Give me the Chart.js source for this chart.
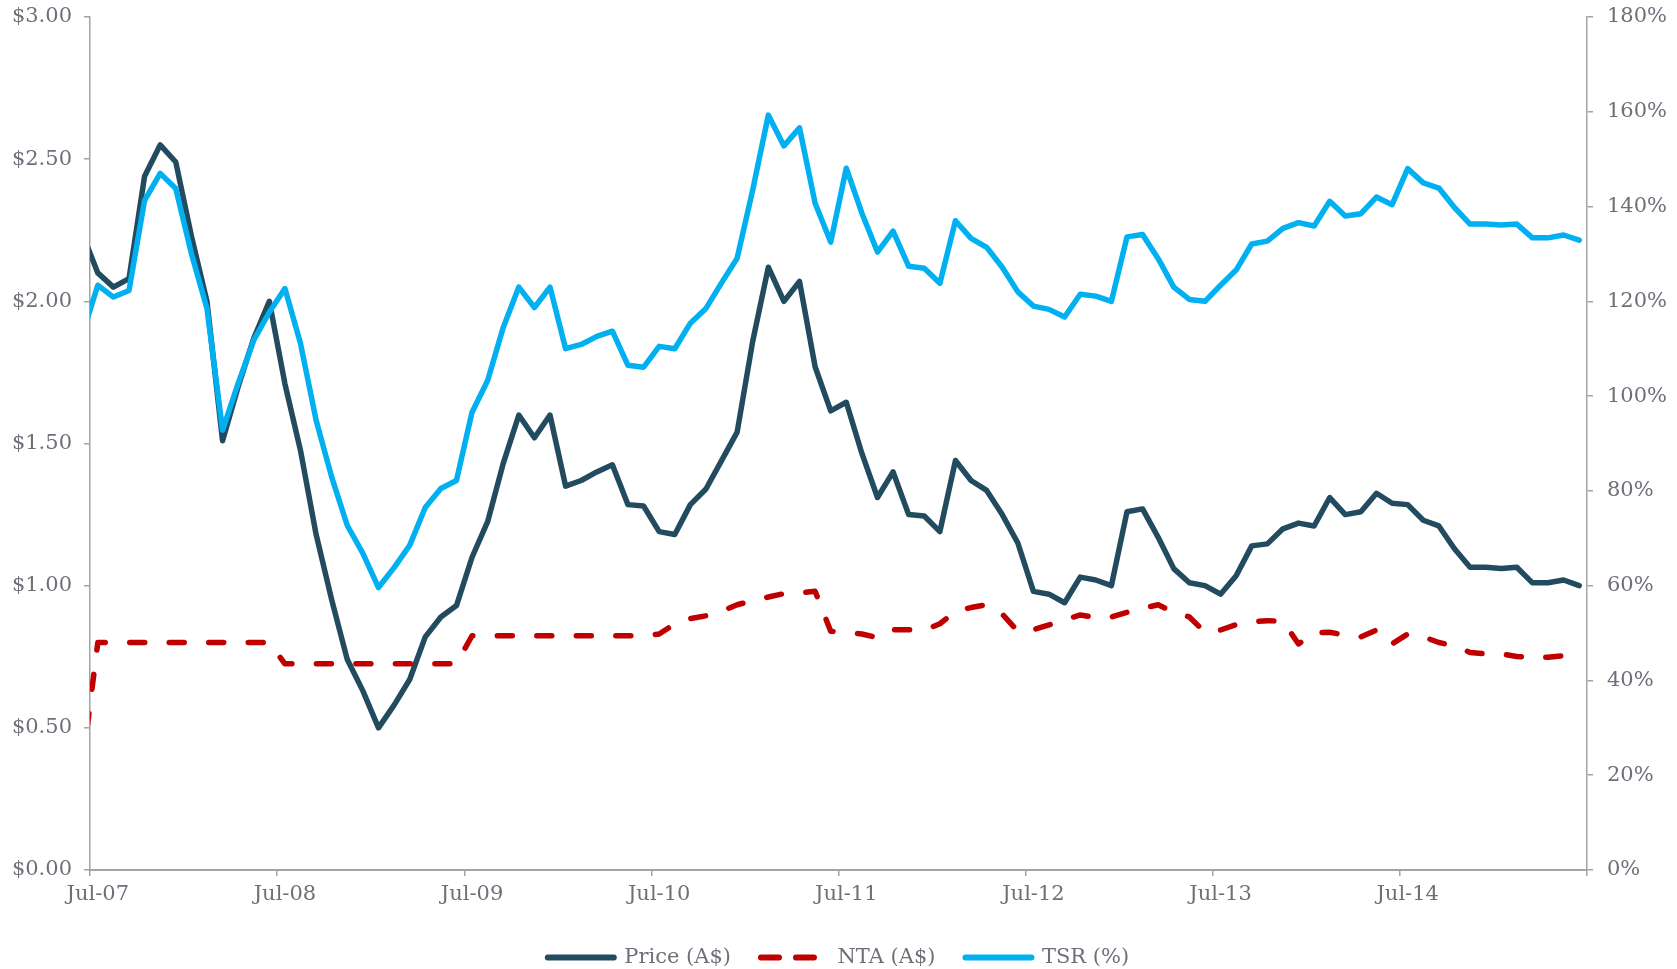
<!DOCTYPE html>
<html><head><meta charset="utf-8">
<script src="https://cdn.jsdelivr.net/npm/chart.js@4.4.1/dist/chart.umd.min.js"></script>
<style>html,body{margin:0;padding:0;background:#fff;overflow:hidden;}</style>
</head><body>
<canvas id="c" width="1677" height="969"></canvas>
<script>
const months = ['Jun-07','Jul-07','Aug-07','Sep-07','Oct-07','Nov-07','Dec-07','Jan-08','Feb-08','Mar-08','Apr-08','May-08','Jun-08',
'Jul-08','Aug-08','Sep-08','Oct-08','Nov-08','Dec-08','Jan-09','Feb-09','Mar-09','Apr-09','May-09','Jun-09',
'Jul-09','Aug-09','Sep-09','Oct-09','Nov-09','Dec-09','Jan-10','Feb-10','Mar-10','Apr-10','May-10','Jun-10',
'Jul-10','Aug-10','Sep-10','Oct-10','Nov-10','Dec-10','Jan-11','Feb-11','Mar-11','Apr-11','May-11','Jun-11',
'Jul-11','Aug-11','Sep-11','Oct-11','Nov-11','Dec-11','Jan-12','Feb-12','Mar-12','Apr-12','May-12','Jun-12',
'Jul-12','Aug-12','Sep-12','Oct-12','Nov-12','Dec-12','Jan-13','Feb-13','Mar-13','Apr-13','May-13','Jun-13',
'Jul-13','Aug-13','Sep-13','Oct-13','Nov-13','Dec-13','Jan-14','Feb-14','Mar-14','Apr-14','May-14','Jun-14',
'Jul-14','Aug-14','Sep-14','Oct-14','Nov-14','Dec-14','Jan-15','Feb-15','Mar-15','Apr-15','May-15','Jun-15'];

const tickLabels = ['Jul-07','Jul-08','Jul-09','Jul-10','Jul-11','Jul-12','Jul-13','Jul-14'];

const price = [2.24,2.10,2.05,2.08,2.44,2.55,2.49,2.23,2.00,1.51,
1.70,1.87,2.00,1.71,1.475,1.18,0.95,0.74,0.63,0.50,
0.58,0.67,0.82,0.89,0.93,1.10,1.225,1.43,1.60,1.52,
1.60,1.35,1.37,1.40,1.425,1.285,1.28,1.19,1.18,1.285,
1.34,1.44,1.54,1.86,2.12,2.00,2.07,1.77,1.615,1.645,
1.465,1.31,1.40,1.25,1.245,1.19,1.44,1.37,1.335,1.25,
1.15,0.98,0.97,0.94,1.03,1.02,1.00,1.26,1.27,1.17,
1.06,1.01,1.00,0.97,1.035,1.14,1.147,1.20,1.22,1.21,
1.31,1.25,1.26,1.325,1.29,1.285,1.23,1.21,1.13,1.065,
1.065,1.06,1.065,1.01,1.01,1.02,1.00];

const nta = [0.36,0.80,0.80,0.80,0.80,0.80,0.80,0.80,0.80,0.80,
0.80,0.80,0.80,0.725,0.725,0.725,0.725,0.725,0.725,0.725,
0.725,0.725,0.725,0.725,0.725,0.824,0.824,0.824,0.824,0.824,
0.824,0.824,0.824,0.824,0.824,0.824,0.824,0.83,0.866,0.884,
0.894,0.91,0.933,0.947,0.96,0.972,0.975,0.98,0.84,0.835,
0.83,0.817,0.845,0.845,0.843,0.866,0.91,0.923,0.933,0.90,
0.84,0.845,0.862,0.88,0.897,0.888,0.89,0.906,0.92,0.933,
0.906,0.89,0.836,0.844,0.863,0.873,0.877,0.875,0.795,0.835,
0.836,0.826,0.82,0.844,0.795,0.83,0.82,0.80,0.789,0.765,
0.76,0.76,0.751,0.748,0.748,0.754,0.75];

const tsr = [112.8,123.4,120.9,122.3,141.3,147.0,143.8,130.1,118.5,92.8,
102.7,111.8,117.7,122.7,111.1,94.9,82.9,72.7,66.8,59.6,
63.8,68.5,76.5,80.5,82.2,96.6,103.3,114.5,123.0,118.7,
123.0,110.0,110.9,112.6,113.7,106.5,106.1,110.5,110.0,115.4,
118.5,123.9,129.1,143.5,159.3,152.8,156.6,140.7,132.5,148.1,
138.6,130.4,134.8,127.4,127.0,123.8,137.0,133.3,131.4,127.2,
122.0,119.0,118.3,116.7,121.5,121.1,120.0,133.6,134.1,129.0,
123.0,120.4,120.0,123.4,126.6,132.1,132.7,135.4,136.6,135.9,
141.1,138.0,138.5,142.0,140.4,148.0,145.0,143.9,139.8,136.3,
136.3,136.1,136.3,133.4,133.4,134.0,132.9];

// each monthly value sits mid-month; Jul-07 boundary = 0
const toPts = arr => arr.map((v, i) => ({x: i - 0.5, y: v}));

const FONT = {family: '"DejaVu Serif", serif', size: 21};
const TXT = '#6f6f7a';
const AX = '#a3a3a3';
const PLOT_L = 90, PLOT_R = 1587;
const halfMonth = (PLOT_R - PLOT_L) / 96 / 2;

new Chart(document.getElementById('c'), {
  type: 'line',
  data: {
    datasets: [
      {label: 'Price (A$)', data: toPts(price), yAxisID: 'y', borderColor: '#234b5f', backgroundColor: '#234b5f',
       borderWidth: 5.5, pointRadius: 0, tension: 0, order: 2, clip: 0, borderCapStyle: 'round', borderJoinStyle: 'round'},
      {label: 'NTA (A$)', data: toPts(nta), yAxisID: 'y', borderColor: '#c00000', backgroundColor: '#c00000',
       borderWidth: 5.5, borderDash: [15, 24.5], pointRadius: 0, tension: 0, order: 1, clip: 0, borderCapStyle: 'round', borderJoinStyle: 'round'},
      {label: 'TSR (%)', data: toPts(tsr), yAxisID: 'y1', borderColor: '#00b0f0', backgroundColor: '#00b0f0',
       borderWidth: 5.5, pointRadius: 0, tension: 0, order: 0, clip: 0, borderCapStyle: 'round', borderJoinStyle: 'round'}
    ]
  },
  options: {
    responsive: false,
    animation: false,
    devicePixelRatio: 1,
    layout: {padding: {top: 17, left: 0, right: 0, bottom: -9}},
    plugins: {
      tooltip: {enabled: false},
      legend: {
        position: 'bottom',
        labels: {
          font: FONT, color: TXT, usePointStyle: true, pointStyle: 'line', pointStyleWidth: 66, padding: 30,
          sort: (a, b) => a.datasetIndex - b.datasetIndex,
          generateLabels: chart => Chart.defaults.plugins.legend.labels.generateLabels(chart).map(item => {
            const ds = chart.data.datasets[item.datasetIndex];
            item.lineDash = ds.borderDash ? [18, 17] : [];
            item.lineWidth = 6;
            item.lineCap = 'round';
            item.strokeStyle = ds.borderColor;
            item.fontColor = TXT;
            return item;
          })
        }
      }
    },
    scales: {
      x: {
        type: 'linear', min: 0, max: 96,
        afterBuildTicks: s => { s.ticks = [0,12,24,36,48,60,72,84,96].map(v => ({value: v})); },
        afterFit: s => { s.height = 47; },
        ticks: {font: FONT, color: TXT, padding: 6, labelOffset: halfMonth, maxRotation: 0, autoSkip: false,
                callback: v => tickLabels[v / 12] || ''},
        grid: {drawOnChartArea: false, tickLength: 6, color: AX, lineWidth: 1.5},
        border: {display: true, color: AX, width: 2}
      },
      y: {
        position: 'left', min: 0, max: 3,
        afterFit: s => { s.width = PLOT_L; s.paddingTop = 0; s.paddingBottom = 0; },
        ticks: {stepSize: 0.5, font: FONT, color: TXT, padding: 12, callback: v => '$' + Number(v).toFixed(2)},
        grid: {drawOnChartArea: false, tickLength: 6, color: AX, lineWidth: 1.5},
        border: {display: true, color: AX, width: 1.5}
      },
      y1: {
        position: 'right', min: 0, max: 180,
        afterFit: s => { s.width = 1677 - PLOT_R; s.paddingTop = 0; s.paddingBottom = 0; },
        ticks: {stepSize: 20, font: FONT, color: TXT, padding: 14, callback: v => v + '%'},
        grid: {drawOnChartArea: false, tickLength: 6, color: AX, lineWidth: 1.5},
        border: {display: true, color: AX, width: 1.5}
      }
    }
  }
});
</script>
</body></html>
